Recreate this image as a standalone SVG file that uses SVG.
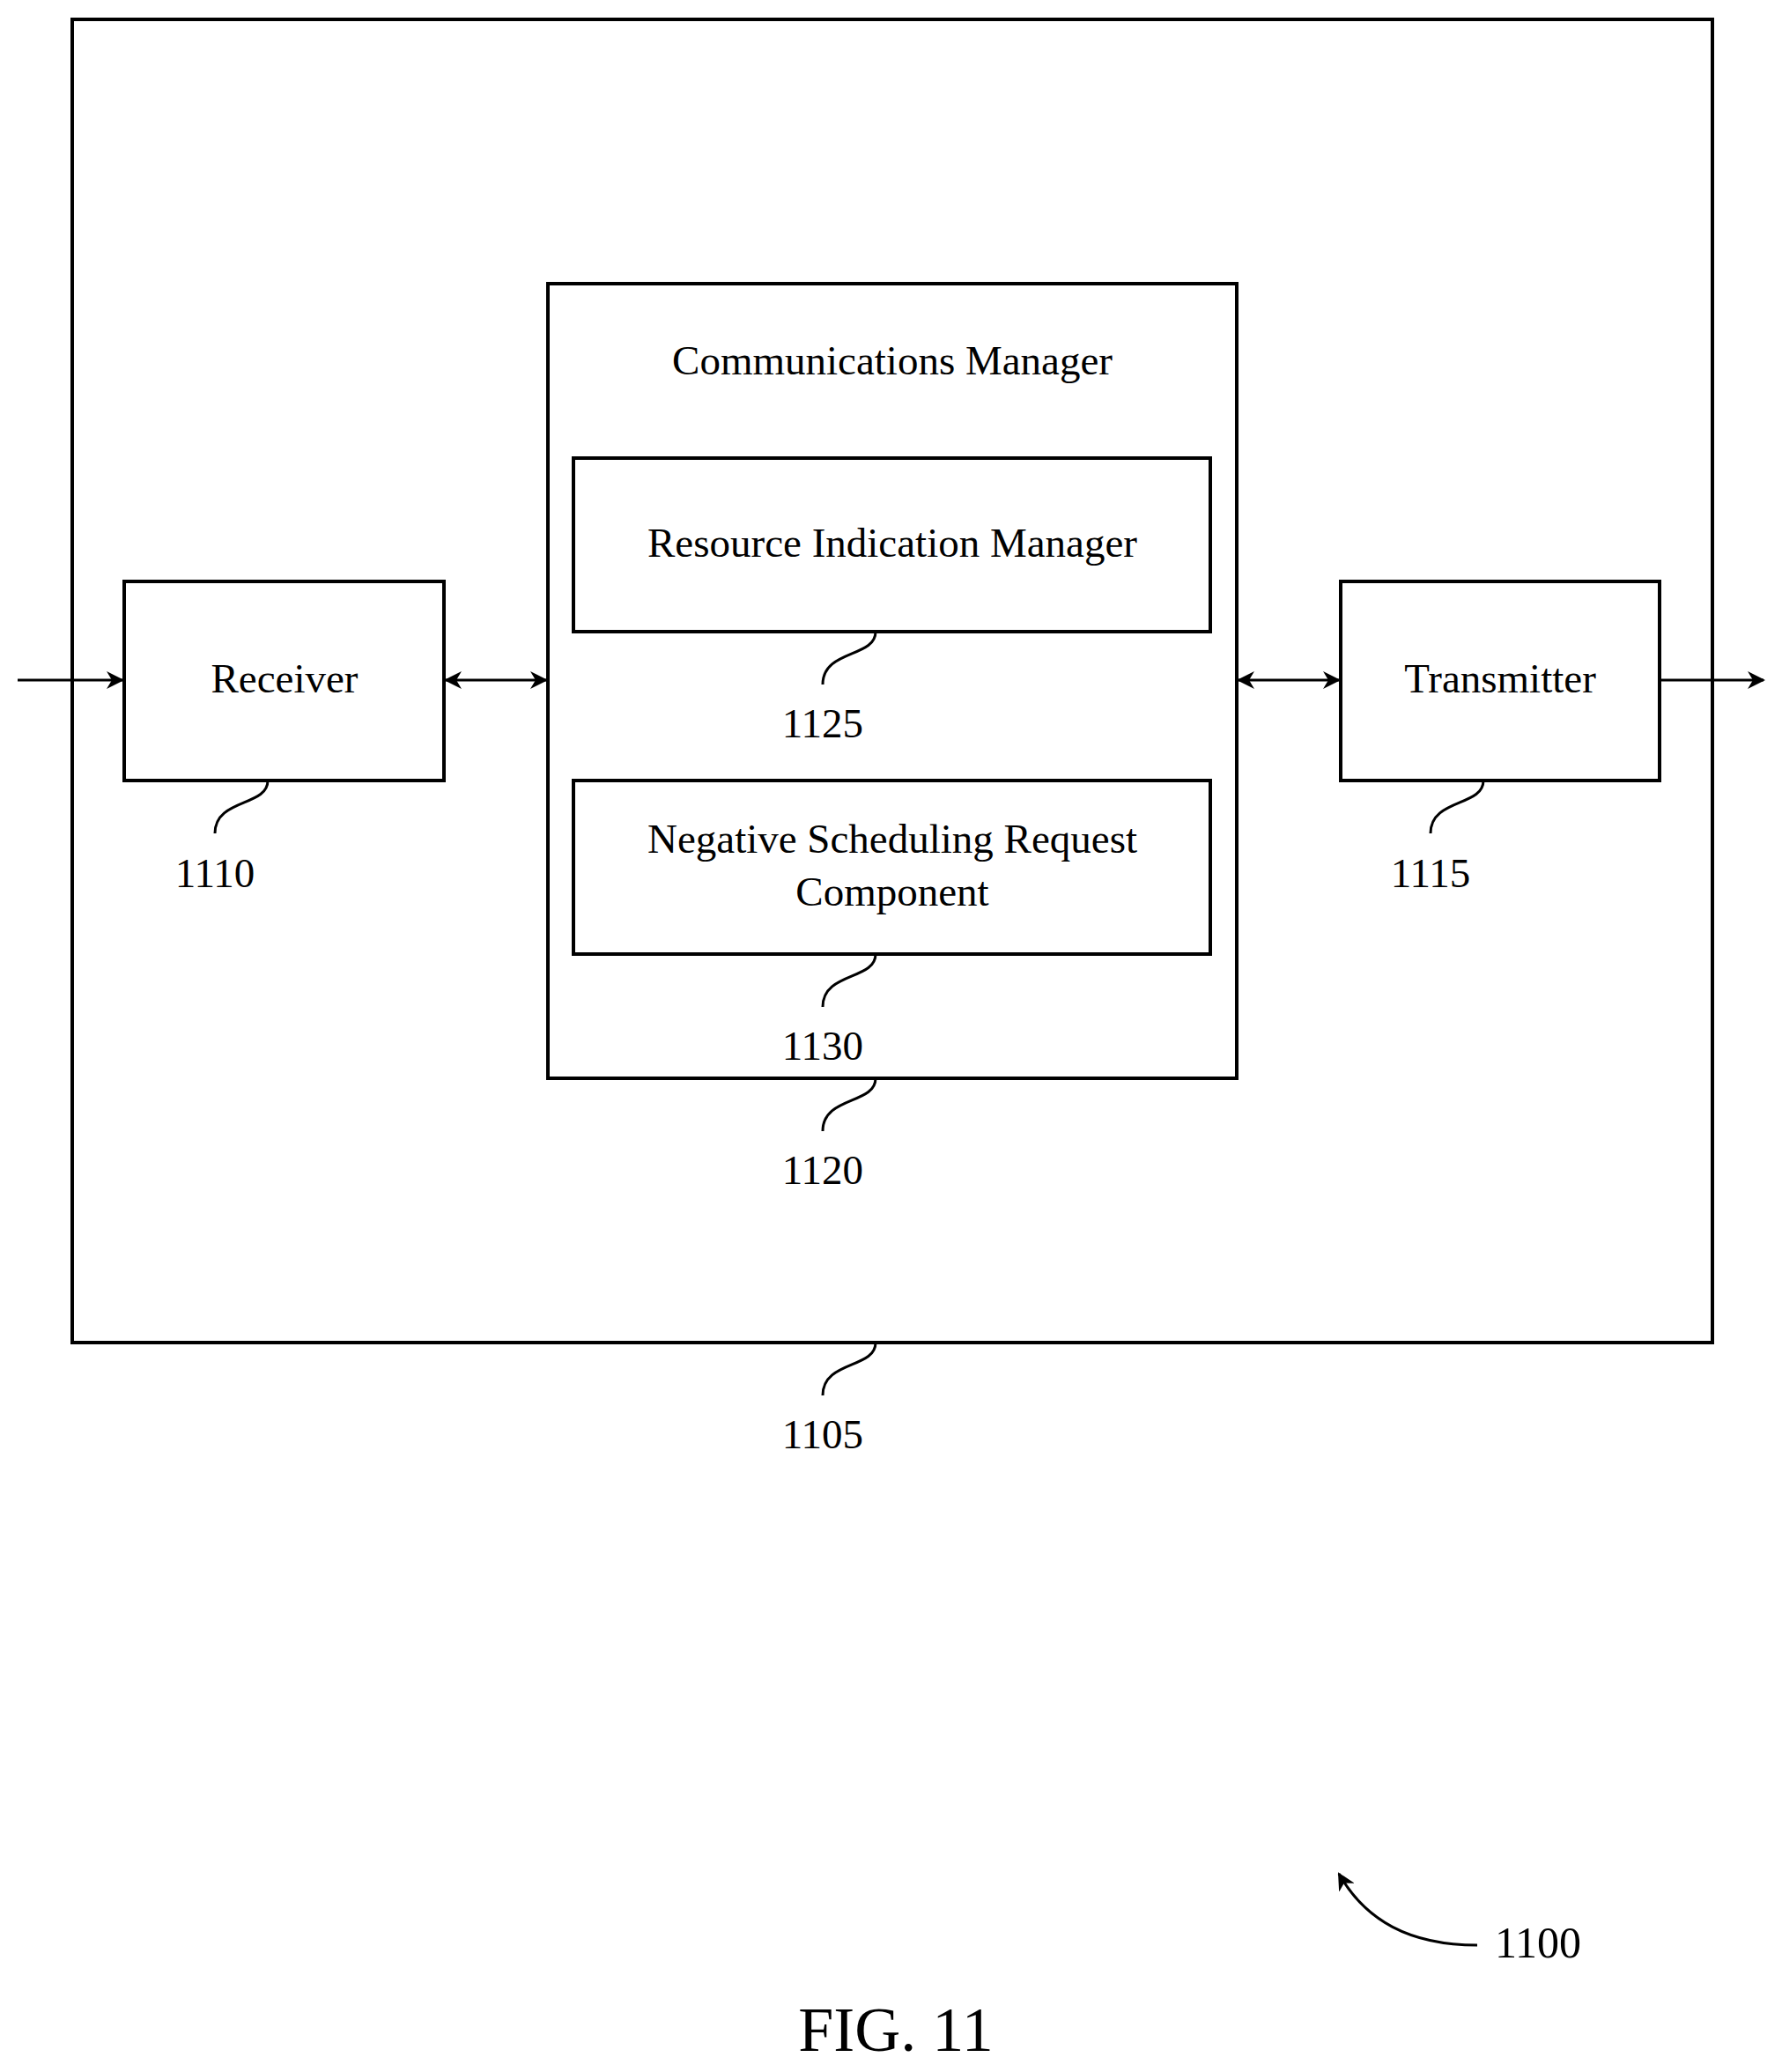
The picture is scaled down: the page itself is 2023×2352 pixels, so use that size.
<svg xmlns="http://www.w3.org/2000/svg" width="2023" height="2352" viewBox="0 0 2023 2352">
<style>
.b{fill:none;stroke:#000;stroke-width:4}
.l{fill:none;stroke:#000;stroke-width:3}
text{font-family:"Liberation Serif",serif;font-size:47px;text-anchor:middle;fill:#000}
</style>
<defs>
<marker id="h" markerWidth="20" markerHeight="20" refX="18" refY="10" orient="auto-start-reverse" markerUnits="userSpaceOnUse"><path d="M0,0 L20,10 L0,20 L6,10z" fill="#000"/></marker></defs>
<rect width="2023" height="2352" fill="#fff"/>
<g id="n1105"><rect class="b" x="82" y="22" width="1862" height="1502"/><path class="l" d="M994,1524 c0,30 -60,20 -60,60"/><text x="934" y="1644">1105</text></g>
<g id="n1120"><rect class="b" x="622" y="322" width="782" height="902"/><text x="1013" y="425">Communications Manager</text><path class="l" d="M994,1224 c0,30 -60,20 -60,60"/><text x="934" y="1344">1120</text></g>
<g id="n1125"><rect class="b" x="651" y="520" width="723" height="197"/><text x="1013" y="632">Resource Indication Manager</text><path class="l" d="M994,717 c0,30 -60,20 -60,60"/><text x="934" y="837">1125</text></g>
<g id="n1130"><rect class="b" x="651" y="886" width="723" height="197"/><text x="1013" y="968">Negative Scheduling Request</text><text x="1013" y="1028">Component</text><path class="l" d="M994,1083 c0,30 -60,20 -60,60"/><text x="934" y="1203">1130</text></g>
<g id="n1110"><rect class="b" x="141" y="660" width="363" height="226"/><text x="323" y="786">Receiver</text><path class="l" d="M304,886 c0,30 -60,20 -60,60"/><text x="244" y="1007">1110</text></g>
<g id="n1115"><rect class="b" x="1522" y="660" width="362" height="226"/><text x="1703" y="786">Transmitter</text><path class="l" d="M1684,886 c0,30 -60,20 -60,60"/><text x="1624" y="1007">1115</text></g>
<g id="connectors">
<line class="l" x1="20" y1="772" x2="139" y2="772" marker-end="url(#h)"/>
<line class="l" x1="506" y1="772" x2="620" y2="772" marker-start="url(#h)" marker-end="url(#h)"/>
<line class="l" x1="1406" y1="772" x2="1520" y2="772" marker-start="url(#h)" marker-end="url(#h)"/>
<line class="l" x1="1884" y1="772" x2="2002" y2="772" marker-end="url(#h)"/>
<path class="l" d="M1677,2208 C1600,2208 1550,2180 1520,2127" marker-end="url(#h)"/>
</g>
<text x="1746" y="2222" style="font-size:50px">1100</text>
<text x="1017" y="2328" style="font-size:72px">FIG. 11</text>
</svg>
